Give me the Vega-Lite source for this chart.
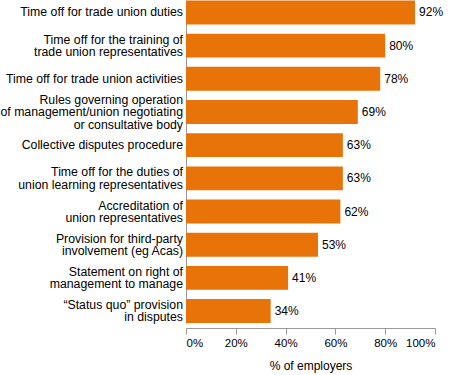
{
  "$schema": "https://vega.github.io/schema/vega-lite/v6.json",
  "width": 249,
  "height": 328,
  "autosize": "none",
  "padding": {"left": 186, "top": 0, "right": 15, "bottom": 47},
  "background": "white",
  "config": {
    "font": "Liberation Sans",
    "view": {"stroke": null}
  },
  "data": {
    "values": [
      {"label": "Time off for trade union duties", "value": 0.92},
      {"label": "Time off for the training of|trade union representatives", "value": 0.80},
      {"label": "Time off for trade union activities", "value": 0.78},
      {"label": "Rules governing operation|of management/union negotiating|or consultative body", "value": 0.69},
      {"label": "Collective disputes procedure", "value": 0.63},
      {"label": "Time off for the duties of|union learning representatives", "value": 0.63},
      {"label": "Accreditation of|union representatives", "value": 0.62},
      {"label": "Provision for third-party|involvement (eg Acas)", "value": 0.53},
      {"label": "Statement on right of|management to manage", "value": 0.41},
      {"label": "\u201cStatus quo\u201d provision|in disputes", "value": 0.34}
    ]
  },
  "encoding": {
    "y": {
      "field": "label",
      "type": "nominal",
      "sort": [
        "Time off for trade union duties",
        "Time off for the training of|trade union representatives",
        "Time off for trade union activities",
        "Rules governing operation|of management/union negotiating|or consultative body",
        "Collective disputes procedure",
        "Time off for the duties of|union learning representatives",
        "Accreditation of|union representatives",
        "Provision for third-party|involvement (eg Acas)",
        "Statement on right of|management to manage",
        "\u201cStatus quo\u201d provision|in disputes"
      ],
      "scale": {"range": [0.5, 323], "paddingInner": 0.28, "paddingOuter": 0},
      "axis": {
        "title": null,
        "ticks": false,
        "labels": false,
        "domainColor": "#999999",
        "grid": false
      }
    },
    "x": {
      "field": "value",
      "type": "quantitative",
      "scale": {"domain": [0, 1]},
      "axis": {
        "title": "% of employers",
        "titleFontSize": 12,
        "titleFontWeight": "normal",
        "titleColor": "#000000",
        "titlePadding": 12,
        "values": [0, 0.2, 0.4, 0.6, 0.8, 1],
        "format": ".0%",
        "labelFontSize": 11.5,
        "labelColor": "#000000",
        "labelPadding": 3,
        "tickSize": 6,
        "tickColor": "#999999",
        "domainColor": "#999999",
        "grid": false
      }
    }
  },
  "layer": [
    {
      "mark": {"type": "bar", "color": "#E87308"}
    },
    {
      "mark": {"type": "text", "align": "left", "baseline": "middle", "dx": 4, "fontSize": 12, "color": "#000000"},
      "encoding": {
        "text": {"field": "value", "type": "quantitative", "format": ".0%"}
      }
    },
    {
      "transform": [{"filter": "length(split(datum.label, '|')) == 1"}],
      "mark": {"type": "text", "align": "right", "baseline": "middle", "dx": -3, "dy": 0, "fontSize": 12.3, "lineHeight": 12.3, "lineBreak": "|", "color": "#000000"},
      "encoding": {
        "x": {"datum": 0, "type": "quantitative"},
        "text": {"field": "label", "type": "nominal"}
      }
    },
    {
      "transform": [{"filter": "length(split(datum.label, '|')) == 2"}],
      "mark": {"type": "text", "align": "right", "baseline": "middle", "dx": -3, "dy": -6, "fontSize": 12.3, "lineHeight": 12.3, "lineBreak": "|", "color": "#000000"},
      "encoding": {
        "x": {"datum": 0, "type": "quantitative"},
        "text": {"field": "label", "type": "nominal"}
      }
    },
    {
      "transform": [{"filter": "length(split(datum.label, '|')) == 3"}],
      "mark": {"type": "text", "align": "right", "baseline": "middle", "dx": -3, "dy": -12, "fontSize": 12.3, "lineHeight": 12.3, "lineBreak": "|", "color": "#000000"},
      "encoding": {
        "x": {"datum": 0, "type": "quantitative"},
        "text": {"field": "label", "type": "nominal"}
      }
    }
  ]
}
